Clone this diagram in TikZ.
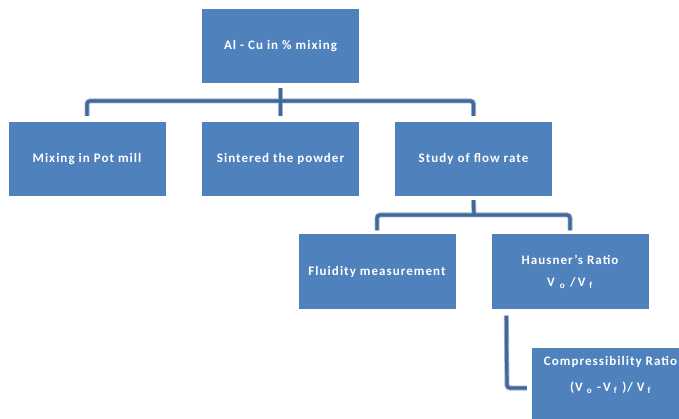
\documentclass[tikz,border=0pt]{standalone}
\usepackage{fontspec}
\setmainfont{Carlito}[LetterSpace=8]
\definecolor{boxblue}{RGB}{79,129,189}
\definecolor{linedark}{RGB}{65,104,154}
\definecolor{linelight}{RGB}{160,180,208}
\begin{document}
\begin{tikzpicture}[x=1pt,y=-1pt,
  box/.style={fill=boxblue,draw=none,minimum width=157pt,minimum height=74pt,inner sep=0pt,
    text=white,font=\fontsize{13}{15}\selectfont\bfseries,align=center},
  lbl/.style={text=white,font=\fontsize{13}{15}\selectfont\bfseries,inner sep=0pt},
  connlight/.style={draw=linelight,line width=5pt,rounded corners=3pt},
  conn/.style={draw=linedark,line width=3.2pt,rounded corners=3pt}]
\useasboundingbox (0,0) rectangle (679,419);
\node[box] (top) at (280.5,46) {Al - Cu in \% mixing};
\node[box] (mix) at (87,159) {Mixing in Pot mill};
\node[box] (sint) at (280.5,159) {Sintered the powder};
\node[box] (study) at (473.5,159) {Study of flow rate};
\node[box] (fluid) at (377,271.5) {Fluidity measurement};
\node[box] (haus) at (570,271.5) {};
\node[box] (comp) at (610.5,385) {};
\node[lbl] (ht1) at (haus.center |- 0,260) {Hausner's Ratio};
\node[lbl] (ht2) at (haus.center |- 0,283) {V\hspace{5pt}\textsubscript{o}\hspace{5pt}/\hspace{2pt}V\hspace{4pt}\textsubscript{f}};
\node[lbl] (ct1) at (comp.center |- 0,362) {Compressibility Ratio};
\node[lbl] (ct2) at (comp.center |- 0,388) {(V\hspace{4pt}\textsubscript{o}\hspace{5pt}-\hspace{2pt}V\hspace{3pt}\textsubscript{f}\hspace{5pt})\hspace{1pt}/\hspace{4pt}V\hspace{3pt}\textsubscript{f}};
\coordinate (b1) at (280,101);
\coordinate (b2) at (474,215);
\coordinate (b3) at (507,388);
% connectors
\foreach \s in {connlight,conn}{
  \draw[\s] ([yshift=-5pt]top.south) -- ([yshift=6pt]sint.north);
  \draw[\s] ([yshift=6pt]mix.north) -- (mix.north |- b1) -- (study.north |- b1) -- ([yshift=6pt]study.north);
  \draw[\s] ([yshift=-4pt]study.south) -- (b2);
  \draw[\s] ([yshift=4pt]fluid.north) -- (fluid.north |- b2) -- (haus.north |- b2) -- ([yshift=4pt]haus.north);
  \draw[\s] ([xshift=15pt,yshift=-7pt]haus.south west) -- (b3) -- ([xshift=-5pt]comp.west |- b3);
}
\end{tikzpicture}
\end{document}
